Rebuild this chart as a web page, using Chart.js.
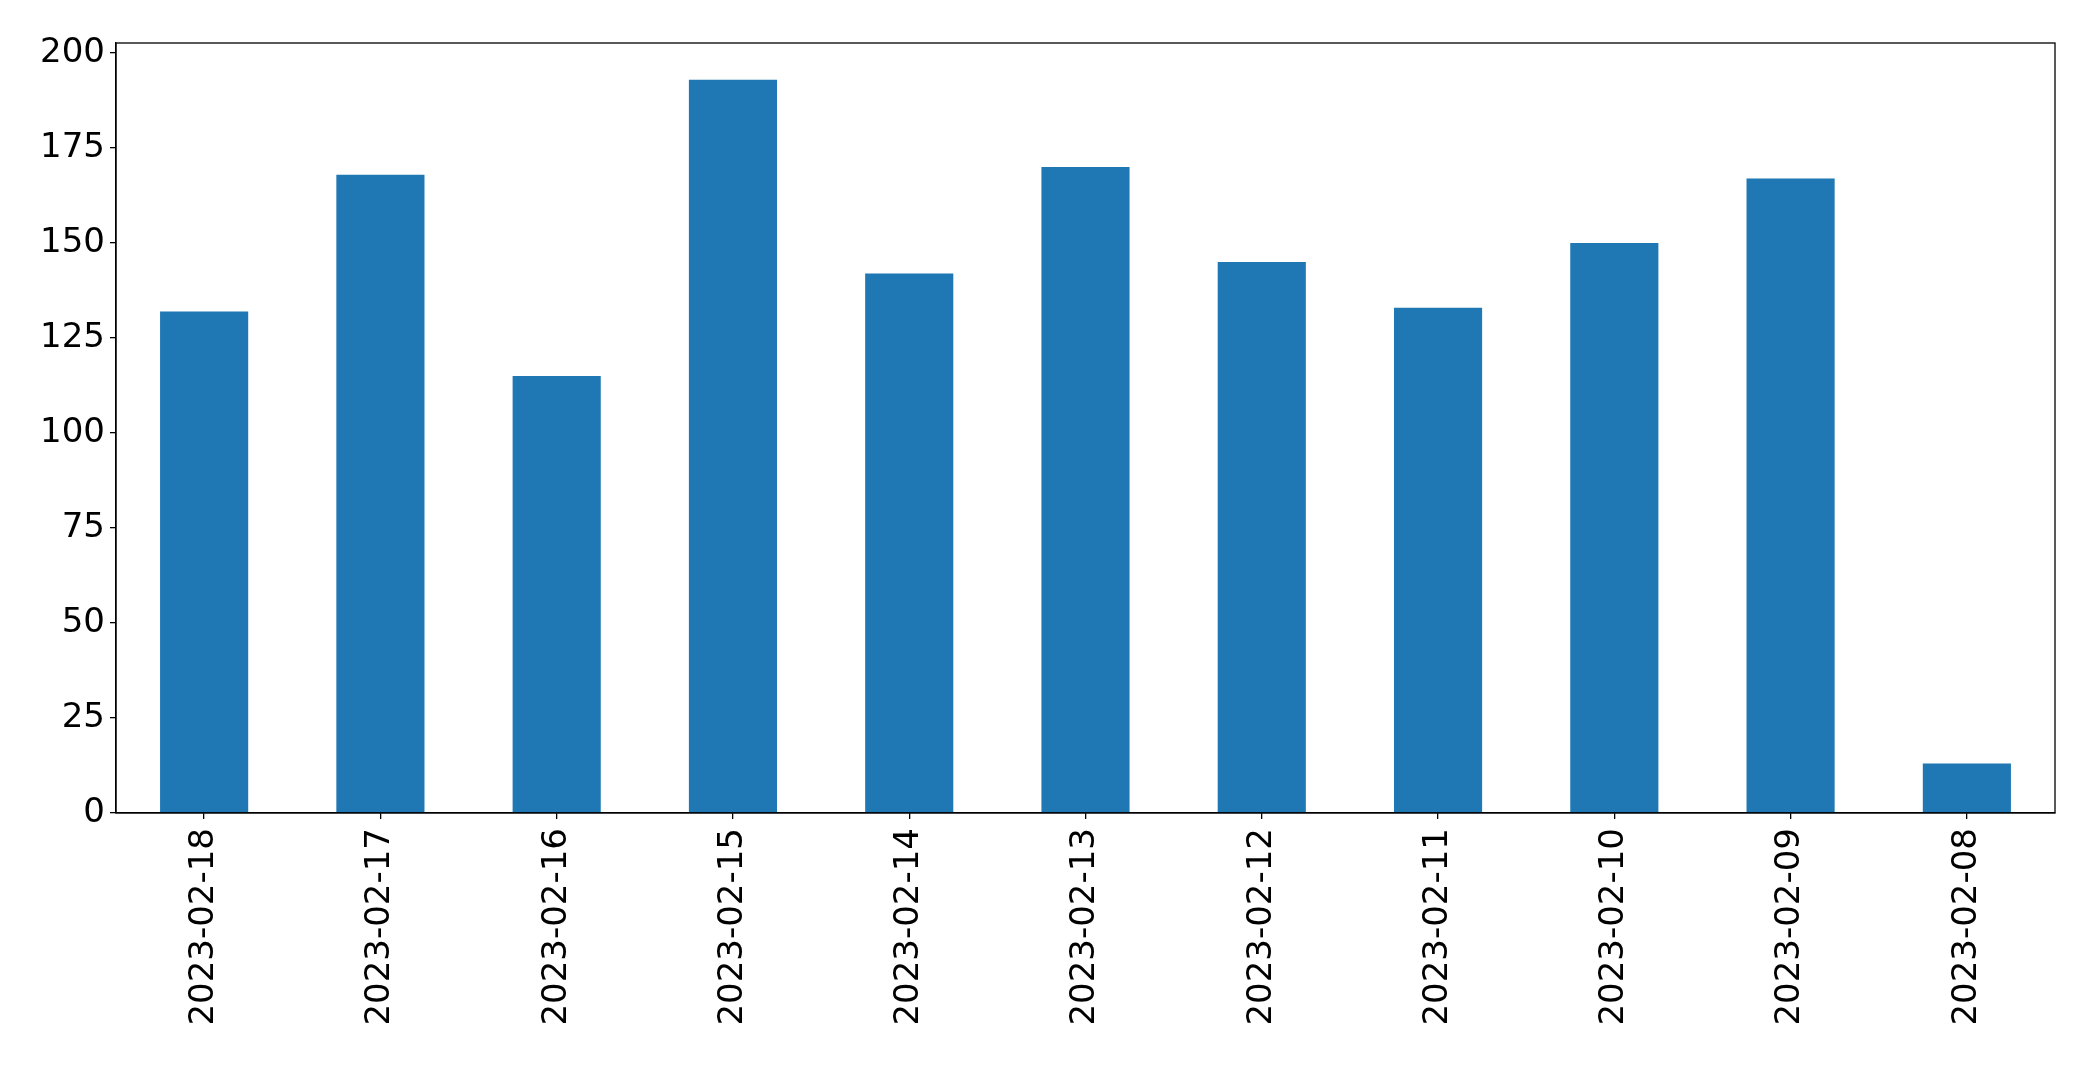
<!DOCTYPE html>
<html>
<head>
<meta charset="utf-8">
<script src="https://cdn.jsdelivr.net/npm/chart.js@4"></script>
<style>
html,body{margin:0;padding:0;background:#fff;}
#wrap{width:2093px;height:1065px;}
</style>
</head>
<body>
<div id="wrap"><canvas id="c" width="2093" height="1065"></canvas></div>
<script>
const categories = ["2023-02-18","2023-02-17","2023-02-16","2023-02-15","2023-02-14","2023-02-13","2023-02-12","2023-02-11","2023-02-10","2023-02-09","2023-02-08"];
const values = [132, 168, 115, 193, 142, 170, 145, 133, 150, 167, 13];
const yTicks = [0, 25, 50, 75, 100, 125, 150, 175, 200];

const frame = {
  id: 'frame',
  afterDraw(chart) {
    const a = chart.chartArea, ctx = chart.ctx;
    ctx.save();
    ctx.strokeStyle = '#000';
    ctx.lineWidth = 1.3;
    ctx.strokeRect(a.left, a.top, a.right - a.left, a.bottom - a.top);
    ctx.restore();
  }
};

new Chart(document.getElementById('c'), {
  type: 'bar',
  data: {
    labels: categories,
    datasets: [{
      data: values,
      backgroundColor: '#1f77b4',
      borderWidth: 0,
      categoryPercentage: 1.0,
      barPercentage: 0.5
    }]
  },
  options: {
    responsive: false,
    animation: false,
    devicePixelRatio: 1,
    layout: { padding: { top: 43, right: 38, left: 0, bottom: 0 } },
    plugins: { legend: { display: false }, tooltip: { enabled: false } },
    scales: {
      x: {
        offset: true,
        grid: { display: true, offset: false, drawOnChartArea: false, drawTicks: true, tickLength: 6, color: '#000', lineWidth: 1.3 },
        border: { display: true, color: '#000', width: 1.3 },
        ticks: { color: '#000', font: { family: 'DejaVu Sans', size: 34 }, minRotation: 90, maxRotation: 90, padding: 9, autoSkip: false },
        afterFit(scale) { scale.height = 252; }
      },
      y: {
        min: 0,
        max: 202.65,
        afterBuildTicks(scale) { scale.ticks = yTicks.map(v => ({ value: v })); },
        grid: { display: true, drawOnChartArea: false, drawTicks: true, tickLength: 6, color: '#000', lineWidth: 1.3 },
        border: { display: true, color: '#000', width: 1.3 },
        ticks: { color: '#000', font: { family: 'DejaVu Sans', size: 34 }, padding: 5 },
        afterFit(scale) { scale.width = 116; }
      }
    }
  },
  plugins: [frame]
});
</script>
</body>
</html>
